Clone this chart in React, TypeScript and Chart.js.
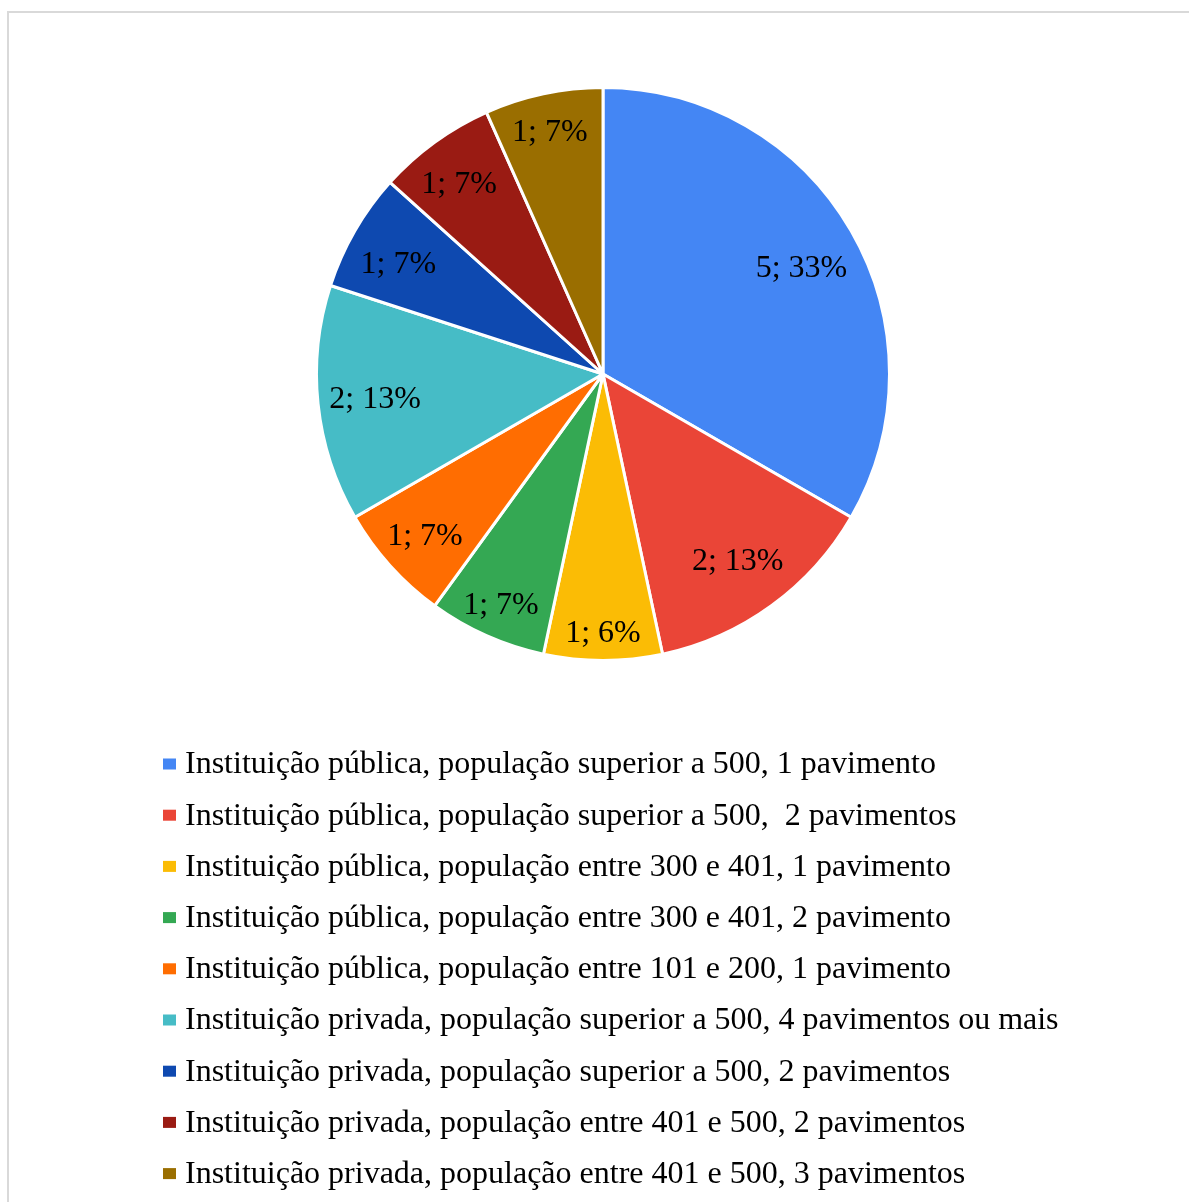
import React, { useEffect, useRef } from "react";
import { Chart, registerables } from "chart.js";

Chart.register(...registerables);

const categories = [
  "Instituição pública, população superior a 500, 1 pavimento",
  "Instituição pública, população superior a 500,  2 pavimentos",
  "Instituição pública, população entre 300 e 401, 1 pavimento",
  "Instituição pública, população entre 300 e 401, 2 pavimento",
  "Instituição pública, população entre 101 e 200, 1 pavimento",
  "Instituição privada, população superior a 500, 4 pavimentos ou mais",
  "Instituição privada, população superior a 500, 2 pavimentos",
  "Instituição privada, população entre 401 e 500, 2 pavimentos",
  "Instituição privada, população entre 401 e 500, 3 pavimentos",
];

const values = [5, 2, 1, 1, 1, 2, 1, 1, 1];

const percentLabels = ["33%", "13%", "6%", "7%", "7%", "13%", "7%", "7%", "7%"];

const colors = [
  "#4486f4",
  "#ea4537",
  "#fbbc05",
  "#34a853",
  "#ff6d01",
  "#46bcc6",
  "#0e49b0",
  "#9a1b13",
  "#9a6e00",
];

const FONT = "'Liberation Serif', 'Times New Roman', serif";

const sliceLabels = {
  id: "sliceLabels",
  afterDatasetsDraw(chart: any) {
    const ctx = chart.ctx;
    const meta = chart.getDatasetMeta(0);
    const total = values.reduce((a, b) => a + b, 0);
    ctx.save();
    ctx.font = `32px ${FONT}`;
    ctx.fillStyle = "#000";
    ctx.textAlign = "center";
    ctx.textBaseline = "middle";
    meta.data.forEach((arc: any, i: number) => {
      const p = arc.getProps(["x", "y", "startAngle", "endAngle", "outerRadius"], true);
      const mid = (p.startAngle + p.endAngle) / 2;
      const frac = values[i] / total;
      // narrow wedges pointing up/down push horizontal text further out
      const s = Math.sin(mid);
      const c = Math.abs(s);
      const f = frac < 0.1 ? 0.82 + 0.08 * Math.pow(c, 4) : 0.8;
      const r = p.outerRadius * f;
      const tx = p.x + Math.cos(mid) * r;
      const ty = p.y + s * r + (s < -0.3 ? 9 : 2);
      ctx.fillText(`${values[i]}; ${percentLabels[i]}`, tx, ty);
    });
    ctx.restore();
  },
};

const customLegend = {
  id: "customLegend",
  afterDraw(chart: any, _args: any, opts: any) {
    const ctx = chart.ctx;
    const labels = chart.data.labels as string[];
    const bg = chart.data.datasets[0].backgroundColor as string[];
    ctx.save();
    ctx.font = `32px ${FONT}`;
    ctx.textBaseline = "middle";
    ctx.textAlign = "left";
    labels.forEach((label, i) => {
      const cy = opts.top + i * opts.spacing;
      ctx.fillStyle = bg[i];
      ctx.fillRect(opts.left, cy - 5.5, 13, 11);
      ctx.fillStyle = "#000";
      ctx.fillText(label, opts.left + 22, cy + 1);
    });
    ctx.restore();
  },
};

export default function App() {
  const canvasRef = useRef<HTMLCanvasElement | null>(null);

  useEffect(() => {
    if (!canvasRef.current) return;
    const chart = new Chart(canvasRef.current, {
      type: "pie",
      data: {
        labels: categories,
        datasets: [
          {
            data: values,
            backgroundColor: colors,
            borderColor: "#ffffff",
            borderWidth: 3,
          },
        ],
      },
      options: {
        animation: false,
        responsive: true,
        maintainAspectRatio: false,
        layout: {
          padding: { left: 315, right: 298, top: 86, bottom: 540 },
        },
        plugins: {
          legend: { display: false },
          tooltip: { enabled: false },
          customLegend: { left: 163, top: 764, spacing: 51.2 },
        } as any,
      },
      plugins: [sliceLabels, customLegend],
    });
    return () => chart.destroy();
  }, []);

  return (
    <div
      style={{
        position: "absolute",
        left: 0,
        top: 0,
        width: 1189,
        height: 1202,
        overflow: "hidden",
        background: "#fff",
      }}
    >
      <div
        style={{
          position: "absolute",
          left: 7,
          top: 11,
          width: 1300,
          height: 1300,
          border: "2px solid #d9d9d9",
        }}
      />
      <div style={{ position: "absolute", left: 0, top: 0, width: 1189, height: 1202 }}>
        <canvas ref={canvasRef} />
      </div>
    </div>
  );
}
